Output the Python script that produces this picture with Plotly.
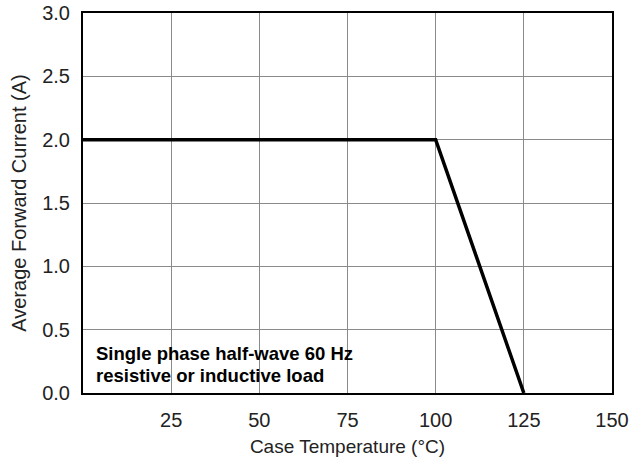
import plotly.graph_objects as go

temp_c = [0, 100, 125]
current_a = [2.0, 2.0, 0.0]
x_ticks = [25, 50, 75, 100, 125, 150]
y_ticks = [0.0, 0.5, 1.0, 1.5, 2.0, 2.5, 3.0]
y_tick_text = ["0.0", "0.5", "1.0", "1.5", "2.0", "2.5", "3.0"]
note_lines = ["Single phase half-wave 60 Hz", "resistive or inductive load"]

fig = go.Figure()
fig.add_trace(go.Scatter(x=temp_c, y=current_a, mode="lines",
                         line=dict(color="black", width=3.5), showlegend=False,
                         cliponaxis=False))

font_family = "Liberation Sans, Arial, sans-serif"
tick_col = "#222222"
fig.update_layout(
    width=629, height=459,
    margin=dict(l=83, r=17, t=13, b=66),
    paper_bgcolor="white", plot_bgcolor="white",
    font=dict(family=font_family, color=tick_col),
    xaxis=dict(range=[0, 150], tickvals=x_ticks, ticktext=[str(v) for v in x_ticks],
               showgrid=True, gridcolor="#8a8a8a", gridwidth=1,
               showline=True, linecolor="black", linewidth=2, mirror=True,
               zeroline=False, ticks="", ticklabelstandoff=8, automargin=False,
               ticklabeloverflow="allow",
               tickfont=dict(size=20, color=tick_col),
               title=dict(text="Case Temperature (°C)", font=dict(size=19, color=tick_col), standoff=10)),
    yaxis=dict(range=[0, 3], tickvals=y_ticks, ticktext=y_tick_text,
               showgrid=True, gridcolor="#8a8a8a", gridwidth=1,
               showline=True, linecolor="black", linewidth=2, mirror=True,
               zeroline=False, ticks="", ticklabelstandoff=7, automargin=False,
               ticklabeloverflow="allow",
               tickfont=dict(size=20, color=tick_col),
               title=dict(text="Average Forward Current (A)", font=dict(size=20, color=tick_col), standoff=10)),
    annotations=[
        dict(xref="x", yref="y", x=3.2, y=0.31, xanchor="left", yanchor="middle",
             showarrow=False, text="<b>" + note_lines[0] + "</b>",
             font=dict(size=18.5, color="black", family=font_family)),
        dict(xref="x", yref="y", x=3.2, y=0.135, xanchor="left", yanchor="middle",
             showarrow=False, text="<b>" + note_lines[1] + "</b>",
             font=dict(size=18.5, color="black", family=font_family)),
    ],
)

fig.write_html("out.html", config={"displayModeBar": False},
               post_script="document.body.style.margin='0';")
